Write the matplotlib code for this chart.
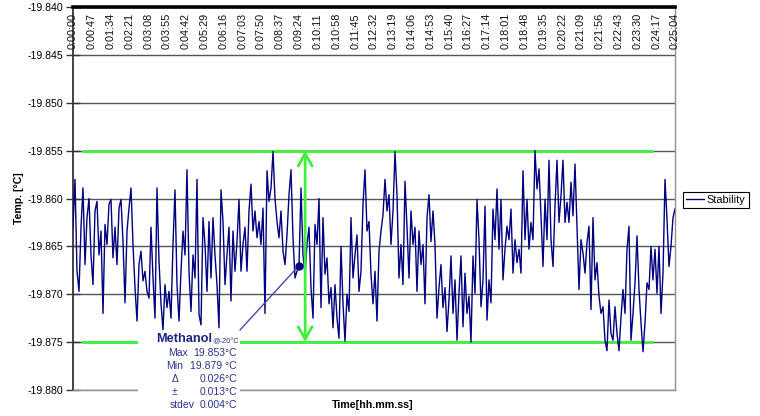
import matplotlib
matplotlib.use("Agg")
import matplotlib.pyplot as plt
import matplotlib.transforms as mtransforms
from matplotlib.patches import Rectangle
import numpy as np

plt.rcParams['font.family'] = ['Liberation Sans', 'DejaVu Sans']
plt.rcParams['axes.unicode_minus'] = False

# time axis labels as printed on the chart (hh:mm:ss)
time_labels = ["0:00:00", "0:00:47", "0:01:34", "0:02:21", "0:03:08", "0:03:55", "0:04:42",
               "0:05:29", "0:06:16", "0:07:03", "0:07:50", "0:08:37", "0:09:24", "0:10:11",
               "0:10:58", "0:11:45", "0:12:32", "0:13:19", "0:14:06", "0:14:53", "0:15:40",
               "0:16:27", "0:17:14", "0:18:01", "0:18:48", "0:19:35", "0:20:22", "0:21:09",
               "0:21:56", "0:22:43", "0:23:30", "0:24:17", "0:25:04"]

# temperature readings [°C], evenly spaced over the run
temps = [
    -19.8630, -19.8580, -19.8676, -19.8697, -19.8630, -19.8589, -19.8669, -19.8620, -19.8600, -19.8659,
    -19.8690, -19.8613, -19.8603, -19.8659, -19.8634, -19.8720, -19.8627, -19.8648, -19.8606, -19.8601,
    -19.8662, -19.8630, -19.8669, -19.8610, -19.8601, -19.8645, -19.8709, -19.8634, -19.8610, -19.8589,
    -19.8648, -19.8693, -19.8728, -19.8669, -19.8655, -19.8686, -19.8676, -19.8697,
    -19.8704, -19.8630, -19.8683, -19.8725, -19.8589, -19.8665, -19.8710, -19.8737, -19.8690, -19.8714,
    -19.8697, -19.8725, -19.8648, -19.8591, -19.8690, -19.8728, -19.8676, -19.8634, -19.8659, -19.8570,
    -19.8676, -19.8718, -19.8659, -19.8683, -19.8580, -19.8721, -19.8732, -19.8620, -19.8648, -19.8697,
    -19.8624, -19.8683, -19.8620, -19.8659, -19.8690, -19.8735, -19.8591,
    -19.8624, -19.8690, -19.8659, -19.8630, -19.8707, -19.8634, -19.8676, -19.8645, -19.8601, -19.8676,
    -19.8648, -19.8630, -19.8676, -19.8613, -19.8585, -19.8634, -19.8613, -19.8641, -19.8624, -19.8648,
    -19.8610, -19.8720, -19.8571, -19.8603, -19.8589, -19.8551, -19.8600, -19.8624, -19.8641, -19.8613,
    -19.8655, -19.8669, -19.8638, -19.8596, -19.8570, -19.8641, -19.8683, -19.8676,
    -19.8670, -19.8589, -19.8659, -19.8679, -19.8648, -19.8630, -19.8693, -19.8725, -19.8627, -19.8648,
    -19.8600, -19.8714, -19.8620, -19.8679, -19.8662, -19.8710, -19.8693, -19.8735, -19.8690, -19.8725,
    -19.8746, -19.8650, -19.8710, -19.8749, -19.8700, -19.8718, -19.8620, -19.8683, -19.8659, -19.8638,
    -19.8697, -19.8676, -19.8606, -19.8570, -19.8634, -19.8624, -19.8679,
    -19.8710, -19.8676, -19.8728, -19.8655, -19.8634, -19.8617, -19.8580, -19.8613, -19.8596, -19.8648,
    -19.8613, -19.8551, -19.8596, -19.8683, -19.8648, -19.8690, -19.8582, -19.8630, -19.8683, -19.8613,
    -19.8648, -19.8630, -19.8697, -19.8634, -19.8669, -19.8648, -19.8710, -19.8620, -19.8596, -19.8645,
    -19.8613, -19.8648, -19.8725, -19.8693, -19.8669, -19.8714, -19.8693, -19.8739,
    -19.8706, -19.8660, -19.8720, -19.8685, -19.8748, -19.8699, -19.8660,
    -19.8734, -19.8678, -19.8720, -19.8702, -19.8750, -19.8660, -19.8699, -19.8601, -19.8643, -19.8713,
    -19.8685, -19.8608, -19.8727, -19.8685, -19.8709, -19.8611, -19.8643, -19.8590, -19.8653, -19.8601,
    -19.8685, -19.8653, -19.8629, -19.8643, -19.8611, -19.8678, -19.8643, -19.8667, -19.8653, -19.8678,
    -19.8571, -19.8643, -19.8601, -19.8653, -19.8625, -19.8643, -19.8550, -19.8590, -19.8569, -19.8618,
    -19.8671, -19.8601, -19.8643, -19.8560, -19.8643, -19.8671, -19.8608, -19.8560, -19.8625, -19.8597,
    -19.8560, -19.8625, -19.8604, -19.8625, -19.8583, -19.8618, -19.8564, -19.8629, -19.8695, -19.8643,
    -19.8657, -19.8678, -19.8646, -19.8629, -19.8716, -19.8620, -19.8685, -19.8667, -19.8702, -19.8720,
    -19.8713, -19.8748, -19.8759, -19.8706, -19.8741, -19.8748, -19.8713, -19.8741, -19.8759, -19.8724,
    -19.8695, -19.8720, -19.8653, -19.8629, -19.8748, -19.8720, -19.8688, -19.8639, -19.8695, -19.8730,
    -19.8760, -19.8730, -19.8688, -19.8695, -19.8650, -19.8685, -19.8653, -19.8699, -19.8650, -19.8720,
    -19.8678, -19.8580, -19.8622, -19.8671, -19.8650, -19.8620, -19.8611,
]

band_max = -19.855
band_min = -19.875
stat_names = ["Max", "Min", "\u0394", "\u00b1", "stdev"]
stat_values = ["19.853°C", "19.879 °C", "0.026°C", "0.013°C", "0.004°C"]

def to_seconds(s):
    h, m, sec = s.split(":")
    return int(h) * 3600 + int(m) * 60 + int(sec)

tick_pos = [to_seconds(s) for s in time_labels]
t = np.linspace(0, tick_pos[-1], len(temps))

W, H = 760, 416
fig = plt.figure(figsize=(W / 100, H / 100), dpi=100)
ax = fig.add_axes([73 / W, 1 - 390 / H, 602 / W, 383 / H])

def px(x, y):
    return (x / W, 1 - y / H)

navy = '#000080'
green = '#3cf03c'
ax.plot(t, temps, color=navy, lw=1.0, label='Stability', zorder=3)

ax.set_xlim(0, tick_pos[-1])
ax.set_ylim(-19.880, -19.840)
ax.set_yticks(np.arange(-19.880, -19.8399, 0.005))
ax.yaxis.set_major_formatter(plt.FormatStrFormatter('%.3f'))
ax.tick_params(axis='y', direction='inout', length=10, width=1, color='#333333',
               labelsize=7.6, pad=2)
ax.set_xticks([])
ax.grid(axis='y', color='#555555', lw=1, zorder=1)

ax.spines['left'].set_color('#333333')
ax.spines['left'].set_linewidth(1.3)
for side in ['right', 'bottom']:
    ax.spines[side].set_color('#909090')
    ax.spines[side].set_linewidth(1)
ax.spines['top'].set_color('black')
ax.spines['top'].set_linewidth(2.6)

# time labels hang inside the plot, under the top axis
trans = mtransforms.blended_transform_factory(ax.transData, ax.transAxes)
for pos, lab in zip(tick_pos, time_labels):
    ax.text(pos, 1 - 6 / 383, lab, transform=trans, rotation=90, ha='center', va='top',
            fontsize=7.8, color='#111111', zorder=4)

ax.set_ylabel('Temp. [°C]', fontsize=7.6, fontweight='bold')
ax.yaxis.set_label_coords((24 - 73) / 602, 0.5)
fig.text(*px(373, 405), 'Time[hh.mm.ss]', fontsize=7.7, fontweight='bold', ha='center', va='center')

# stability band
ax.axhline(band_max, xmin=10 / 602, xmax=579 / 602, color=green, lw=2, zorder=2)
ax.axhline(band_min, xmin=10 / 602, xmax=579 / 602, color=green, lw=2, zorder=2)
ax.annotate('', xy=(580, band_max), xytext=(580, band_min),
            arrowprops=dict(arrowstyle='<->,head_length=0.9,head_width=0.5', color=green,
                            lw=2, shrinkA=0, shrinkB=0, mutation_scale=10), zorder=5)

# text box with the statistics
fig.patches.append(Rectangle(px(138, 413), 102 / W, 82 / H, transform=fig.transFigure,
                             facecolor='white', edgecolor='none', zorder=1))
txt_col = '#2a3290'
fig.text(*px(212, 339), 'Methanol', fontsize=9.2, fontweight='bold', color='#1a2380',
         ha='right', va='center', zorder=3)
fig.text(*px(212, 342), '@-20°C', fontsize=5.3, color=txt_col, ha='left', va='center', zorder=3)
label_x = [168, 166, 172, 172, 170]
for i, (name, val) in enumerate(zip(stat_names, stat_values)):
    y = 353 + i * 13
    fig.text(*px(label_x[i], y), name, fontsize=7.5, color=txt_col, ha='left', va='center', zorder=3)
    fig.text(*px(237, y), val, fontsize=7.5, color=txt_col, ha='right', va='center', zorder=3)

pointer_idx = 113
ax.annotate('', xy=(t[pointer_idx], temps[pointer_idx]), xycoords='data',
            xytext=(240, H - 330), textcoords='figure pixels',
            arrowprops=dict(arrowstyle='-', color='#4a4aa8', lw=1, shrinkA=0, shrinkB=0), zorder=5)
ax.plot(t[pointer_idx], temps[pointer_idx], 'o', color=navy, ms=5, zorder=6)

leg = fig.legend(loc='center left', bbox_to_anchor=px(683, 200), bbox_transform=fig.transFigure,
                 fontsize=7.8, frameon=True, fancybox=False, edgecolor='black', framealpha=1,
                 handlelength=1.6, handletextpad=0.3, borderpad=0.3, borderaxespad=0)
leg.get_frame().set_linewidth(0.8)

fig.savefig('out.png', dpi=100)
